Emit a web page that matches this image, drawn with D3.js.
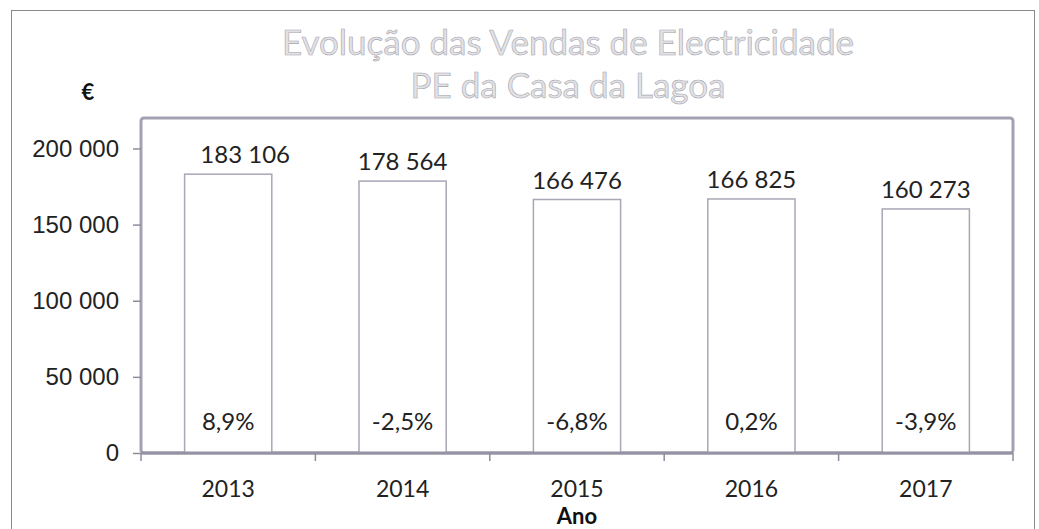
<!DOCTYPE html>
<html>
<head>
<meta charset="utf-8">
<script src="https://cdn.jsdelivr.net/npm/d3@7"></script>
<style>
  body { margin: 0; background: #fff; }
  svg { display: block; font-family: Lato, "Open Sans", sans-serif; }
  .tick text { fill: #222; }
</style>
</head>
<body>
<div id="chart"></div>
<script>
// values
const years = [`2013`, `2014`, `2015`, `2016`, `2017`];
const sales = [183106, 178564, 166476, 166825, 160273];
const changes = [`8,9%`, `-2,5%`, `-6,8%`, `0,2%`, `-3,9%`];
const yTicks = [0, 50000, 100000, 150000, 200000];
const titleLines = [`Evolução das Vendas de Electricidade`, `PE da Casa da Lagoa`];

const width = 1039;
const height = 529;
const margin = { top: 118, right: 26, bottom: 76, left: 141 };
const fontSize = `24px`;

const fmt = (v) => d3.format(`,`)(v).replace(/,/g, ` `);

const svg = d3.select(`#chart`).append(`svg`)
    .attr(`width`, width)
    .attr(`height`, height);

// outer frame
svg.append(`rect`)
    .attr(`x`, 11.5).attr(`y`, 10.5)
    .attr(`width`, 1023).attr(`height`, 530)
    .attr(`fill`, `none`)
    .attr(`stroke`, `#8a8a8a`)
    .attr(`stroke-width`, 1);

const x = d3.scaleBand()
    .domain(years)
    .range([margin.left, width - margin.right])
    .paddingInner(0.5)
    .paddingOuter(0.25);

const y = d3.scaleLinear()
    .domain([0, 220000])
    .range([height - margin.bottom, margin.top]);

const mid = (i) => x(years[i]) + x.bandwidth() / 2;

// plot area border
svg.append(`rect`)
    .attr(`x`, margin.left).attr(`y`, margin.top)
    .attr(`width`, width - margin.right - margin.left)
    .attr(`height`, y(0) - margin.top)
    .attr(`rx`, 3)
    .attr(`fill`, `none`)
    .attr(`stroke`, `#a5a1b3`)
    .attr(`stroke-width`, 3);

// bars
svg.selectAll(`.bar`)
    .data(sales)
  .enter().append(`rect`)
    .attr(`class`, `bar`)
    .attr(`x`, (d, i) => x(years[i]))
    .attr(`y`, (d) => y(d))
    .attr(`width`, x.bandwidth())
    .attr(`height`, (d) => y(0) - y(d))
    .attr(`fill`, `#fff`)
    .attr(`stroke`, `#a9a6b6`)
    .attr(`stroke-width`, 1.5);

// y axis
const yAxis = svg.append(`g`)
    .attr(`transform`, `translate(${margin.left},0)`)
    .call(d3.axisLeft(y).tickValues(yTicks).tickFormat(fmt).tickSize(8).tickPadding(14));
yAxis.select(`.domain`).remove();
yAxis.selectAll(`line`).attr(`stroke`, `#8f8c9c`).attr(`stroke-width`, 1.5);
yAxis.selectAll(`text`).style(`font-size`, fontSize);

// x axis with ticks on category boundaries
const boundaries = d3.range(years.length + 1).map((i) => margin.left + i * x.step());
svg.append(`line`)
    .attr(`x1`, margin.left).attr(`x2`, width - margin.right)
    .attr(`y1`, y(0)).attr(`y2`, y(0))
    .attr(`stroke`, `#9592a3`)
    .attr(`stroke-width`, 3);
svg.selectAll(`.xtick`)
    .data(boundaries)
  .enter().append(`line`)
    .attr(`x1`, (d) => d).attr(`x2`, (d) => d)
    .attr(`y1`, y(0)).attr(`y2`, y(0) + 8)
    .attr(`stroke`, `#8f8c9c`)
    .attr(`stroke-width`, 1.5);
svg.selectAll(`.xlabel`)
    .data(years)
  .enter().append(`text`)
    .attr(`x`, (d, i) => mid(i))
    .attr(`y`, y(0) + 44)
    .attr(`text-anchor`, `middle`)
    .style(`font-size`, `23px`)
    .style(`fill`, `#222`)
    .text((d) => d);

// value labels (the first one sits a little right of its bar in the original)
svg.selectAll(`.value`)
    .data(sales)
  .enter().append(`text`)
    .attr(`x`, (d, i) => mid(i) + (i === 0 ? 17 : 0))
    .attr(`y`, (d) => y(d) - 11)
    .attr(`text-anchor`, `middle`)
    .style(`font-size`, fontSize)
    .style(`fill`, `#222`)
    .text(fmt);

// change labels
svg.selectAll(`.change`)
    .data(changes)
  .enter().append(`text`)
    .attr(`x`, (d, i) => mid(i))
    .attr(`y`, y(0) - 23)
    .attr(`text-anchor`, `middle`)
    .style(`font-size`, fontSize)
    .style(`fill`, `#222`)
    .text((d) => d);

// axis titles
svg.append(`text`)
    .attr(`x`, mid(2))
    .attr(`y`, 524)
    .attr(`text-anchor`, `middle`)
    .style(`font-size`, `22px`)
    .style(`font-weight`, `bold`)
    .style(`fill`, `#111`)
    .text(`Ano`);

svg.append(`text`)
    .attr(`x`, 88)
    .attr(`y`, 100)
    .attr(`text-anchor`, `middle`)
    .style(`font-size`, `22px`)
    .style(`font-weight`, `bold`)
    .style(`fill`, `#111`)
    .text(`€`);

// title
svg.selectAll(`.title`)
    .data(titleLines)
  .enter().append(`text`)
    .attr(`x`, 568)
    .attr(`y`, (d, i) => 55 + i * 43)
    .attr(`text-anchor`, `middle`)
    .style(`font-size`, `35px`)
    .style(`fill`, `#e2e2e6`)
    .style(`stroke`, `#a6a6ae`)
    .style(`stroke-width`, 0.6)
    .text((d) => d);
</script>
</body>
</html>
